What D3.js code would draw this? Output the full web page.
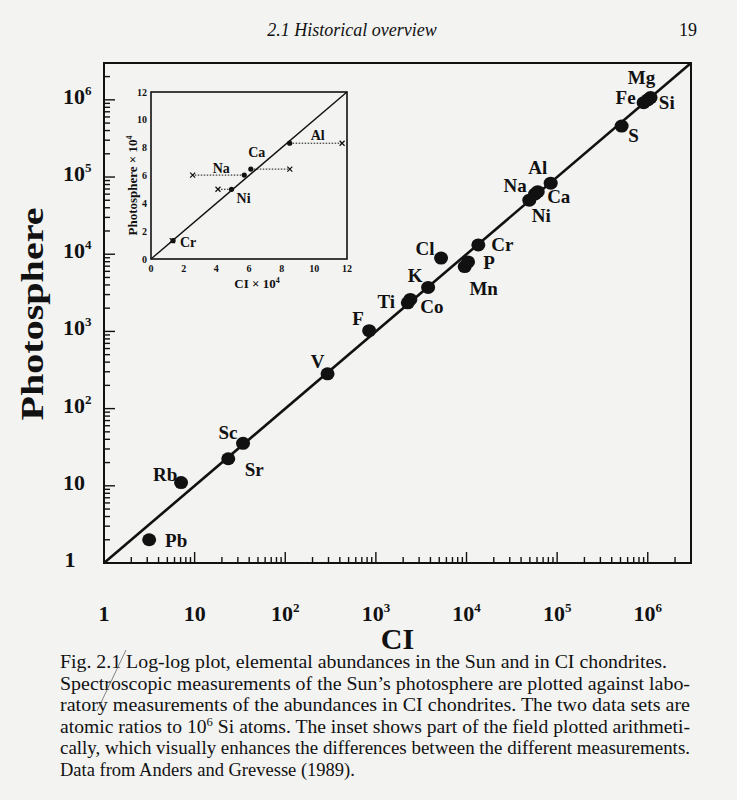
<!DOCTYPE html>
<html>
<head>
<meta charset="utf-8">
<script src="https://d3js.org/d3.v7.min.js"></script>
<style>
  body { margin: 0; background: #f3f3f2; }
  svg { display: block; }
  .serif { font-family: "Liberation Serif", "DejaVu Serif", serif; fill: #111; }
</style>
</head>
<body>
<svg id="canvas"></svg>
<script>
"use strict";

// Main plot data (atomic ratios to 10^6 Si atoms)
const elements = ["Pb", "Rb", "Sr", "Sc", "V", "F", "Ti", "Co", "K", "Cl", "Mn", "P", "Cr", "Ni", "Na", "Ca", "Al", "S", "Fe", "Mg", "Si"];
const ciValues = [3.15, 7.09, 23.5, 34.2, 293, 843, 2400, 2250, 3770, 5240, 9550, 10400, 13500, 49300, 57100, 61100, 84900, 515000, 900000, 1074000, 1000000];
const photoValues = [2.0, 11.0, 22.4, 35.5, 282, 1023, 2600, 2344, 3715, 8913, 6918, 7943, 13183, 50119, 60256, 64565, 83176, 457088, 920000, 1070000, 1000000];

// Inset data (units of 10^4)
const insetElements = ["Cr", "Ni", "Na", "Ca", "Al"];
const insetCI = [1.35, 4.93, 5.71, 6.11, 8.49];
const insetPhoto = [1.32, 5.01, 6.03, 6.46, 8.32];
const insetOtherCI = [1.30, 4.10, 2.55, 8.50, 11.70];
const insetTicks = [0, 2, 4, 6, 8, 10, 12];

const captionLines = [
    "Fig. 2.1  Log-log plot, elemental abundances in the Sun and in CI chondrites.",
    "Spectroscopic measurements of the Sun\u2019s photosphere are plotted against labo-",
    "ratory measurements of the abundances in CI chondrites. The two data sets are",
    "atomic ratios to 10|6| Si atoms. The inset shows part of the field plotted arithmeti-",
    "cally, which visually enhances the differences between the different measurements.",
    "Data from Anders and Grevesse (1989)."
];
// caption line widths as typeset (px); null = natural width
const captionWidths = [607, 630, 630, 630, 630, null];

// Label offsets (label centre relative to its dot, px)
const labelOffset = {
    Pb: [27, 1], Rb: [-16, -8], Sr: [26, 11], Sc: [-15, -11], V: [-10, -12], F: [-11, -12],
    Ti: [-24, 2], Co: [24, 4], K: [-13, -12], Cl: [-16, -10], Mn: [19, 22], P: [21, 1],
    Cr: [24, 0], Ni: [12, 15], Na: [-20, -9], Ca: [21, 5], Al: [-13, -16], S: [12, 9],
    Fe: [-18, -5], Mg: [-9, -20], Si: [19, 3]
};
const insetLabelOffset = { Al: [28, -8], Ca: [6, -17], Na: [-23, -7], Ni: [12, 9], Cr: [15, 2] };

const width = 737, height = 800;
const plot = { left: 104, right: 691, top: 63, bottom: 563 };
const inset = { left: 151, right: 347, top: 92, bottom: 259 };

const svg = d3.select("#canvas").attr("width", width).attr("height", height);

// Header
svg.append("text").attr("class", "serif")
    .attr("x", 352).attr("y", 36).attr("text-anchor", "middle")
    .attr("font-size", 18).attr("font-style", "italic")
    .text("2.1  Historical overview");
svg.append("text").attr("class", "serif")
    .attr("x", 697).attr("y", 36).attr("text-anchor", "end")
    .attr("font-size", 18)
    .text("19");

// Scales
const domain = [1, 3e6];
const x = d3.scaleLog().domain(domain).range([plot.left, plot.right]);
const y = d3.scaleLog().domain(domain).range([plot.bottom, plot.top]);

const ticks = x.ticks().filter(t => t < domain[1]);
const isMajor = t => Math.abs(Math.log10(t) - Math.round(Math.log10(t))) < 1e-9;

const g = svg.append("g");

// Ticks (inward)
g.selectAll(".xtick").data(ticks).enter().append("line")
    .attr("x1", d => x(d)).attr("x2", d => x(d))
    .attr("y1", plot.bottom).attr("y2", d => plot.bottom - (isMajor(d) ? 11 : 6))
    .attr("stroke", "#111").attr("stroke-width", 1.4);
g.selectAll(".ytick").data(ticks).enter().append("line")
    .attr("y1", d => y(d)).attr("y2", d => y(d))
    .attr("x1", plot.left).attr("x2", d => plot.left + (isMajor(d) ? 11 : 6))
    .attr("stroke", "#111").attr("stroke-width", 1.4);

// Tick labels
const majors = ticks.filter(isMajor);
function powerLabel(sel, d) {
    const p = Math.round(Math.log10(d));
    if (p === 0) { sel.text("1"); return; }
    if (p === 1) { sel.text("10"); return; }
    sel.append("tspan").text("10");
    sel.append("tspan").attr("font-size", 13).attr("dy", -9).text(p);
}
majors.forEach(d => {
    const t = g.append("text").attr("class", "serif")
        .attr("x", x(d)).attr("y", plot.bottom + 58)
        .attr("text-anchor", "middle").attr("font-size", 22).attr("font-weight", "bold");
    powerLabel(t, d);
    const p = Math.round(Math.log10(d));
    const ty = g.append("text").attr("class", "serif")
        .attr("x", p === 0 ? 70 : 63).attr("y", y(d) + 4)
        .attr("text-anchor", p === 0 ? "middle" : "start")
        .attr("font-size", 22).attr("font-weight", "bold");
    powerLabel(ty, d);
});

// Axis titles
g.append("text").attr("class", "serif")
    .attr("x", (plot.left + plot.right) / 2).attr("y", 649)
    .attr("text-anchor", "middle").attr("font-size", 30).attr("font-weight", "bold")
    .text("CI");
g.append("text").attr("class", "serif")
    .attr("transform", `translate(43,${(plot.top + plot.bottom) / 2 + 1}) rotate(-90)`)
    .attr("text-anchor", "middle").attr("font-size", 32).attr("font-weight", "bold")
    .attr("textLength", 213).attr("lengthAdjust", "spacingAndGlyphs")
    .text("Photosphere");

// Frame and 1:1 line
g.append("rect")
    .attr("x", plot.left).attr("y", plot.top)
    .attr("width", plot.right - plot.left).attr("height", plot.bottom - plot.top)
    .attr("fill", "none").attr("stroke", "#111").attr("stroke-width", 2);
g.append("line")
    .attr("x1", x(domain[0])).attr("y1", y(domain[0]))
    .attr("x2", x(domain[1])).attr("y2", y(domain[1]))
    .attr("stroke", "#111").attr("stroke-width", 2.6);

// Points
g.selectAll(".dot").data(elements).enter().append("ellipse")
    .attr("cx", (d, i) => x(ciValues[i])).attr("cy", (d, i) => y(photoValues[i]))
    .attr("rx", 7).attr("ry", 6.5).attr("fill", "#111");

g.selectAll(".lab").data(elements).enter().append("text")
    .attr("class", "serif")
    .attr("x", (d, i) => x(ciValues[i]) + labelOffset[d][0])
    .attr("y", (d, i) => y(photoValues[i]) + labelOffset[d][1])
    .attr("text-anchor", "middle").attr("dominant-baseline", "central")
    .attr("font-size", 19).attr("font-weight", "bold")
    .text(d => d);

// Inset
const ix = d3.scaleLinear().domain([0, 12]).range([inset.left, inset.right]);
const iy = d3.scaleLinear().domain([0, 12]).range([inset.bottom, inset.top]);
const ig = svg.append("g");

ig.append("rect")
    .attr("x", inset.left).attr("y", inset.top)
    .attr("width", inset.right - inset.left).attr("height", inset.bottom - inset.top)
    .attr("fill", "none").attr("stroke", "#111").attr("stroke-width", 1.6);
ig.append("line")
    .attr("x1", ix(0)).attr("y1", iy(0)).attr("x2", ix(12)).attr("y2", iy(12))
    .attr("stroke", "#111").attr("stroke-width", 1.4);

ig.selectAll(".ixl").data(insetTicks).enter().append("text")
    .attr("class", "serif")
    .attr("x", d => ix(d)).attr("y", inset.bottom + 13)
    .attr("text-anchor", "middle").attr("font-size", 10).attr("font-weight", "bold")
    .text(d => d);
ig.selectAll(".iyl").data(insetTicks).enter().append("text")
    .attr("class", "serif")
    .attr("x", inset.left - 4).attr("y", d => iy(d) + 3.5)
    .attr("text-anchor", "end").attr("font-size", 10).attr("font-weight", "bold")
    .text(d => d);

const ciTitle = ig.append("text").attr("class", "serif")
    .attr("x", (inset.left + inset.right) / 2 + 8).attr("y", inset.bottom + 29)
    .attr("text-anchor", "middle").attr("font-size", 13).attr("font-weight", "bold");
ciTitle.append("tspan").text("CI \u00d7 10");
ciTitle.append("tspan").attr("font-size", 8).attr("dy", -5).text("4");
const phTitle = ig.append("text").attr("class", "serif")
    .attr("transform", `translate(137,${(inset.top + inset.bottom) / 2 + 10}) rotate(-90)`)
    .attr("text-anchor", "middle").attr("font-size", 13).attr("font-weight", "bold");
phTitle.append("tspan").text("Photosphere \u00d7 10");
phTitle.append("tspan").attr("font-size", 8).attr("dy", -5).text("4");

// Dotted links between the two CI measurements
ig.selectAll(".link").data(insetElements).enter().append("line")
    .attr("x1", (d, i) => ix(insetCI[i])).attr("x2", (d, i) => ix(insetOtherCI[i]))
    .attr("y1", (d, i) => iy(insetPhoto[i])).attr("y2", (d, i) => iy(insetPhoto[i]))
    .attr("stroke", "#111").attr("stroke-width", 1).attr("stroke-dasharray", "1.5,1.5");

ig.selectAll(".cross").data(insetElements).enter().append("path")
    .attr("transform", (d, i) => `translate(${ix(insetOtherCI[i])},${iy(insetPhoto[i])})`)
    .attr("d", "M-2.5,-2.5L2.5,2.5M-2.5,2.5L2.5,-2.5")
    .attr("stroke", "#111").attr("stroke-width", 1.2);

ig.selectAll(".idot").data(insetElements).enter().append("circle")
    .attr("cx", (d, i) => ix(insetCI[i])).attr("cy", (d, i) => iy(insetPhoto[i]))
    .attr("r", 2.6).attr("fill", "#111");

ig.selectAll(".ilab").data(insetElements).enter().append("text")
    .attr("class", "serif")
    .attr("x", (d, i) => ix(insetCI[i]) + insetLabelOffset[d][0])
    .attr("y", (d, i) => iy(insetPhoto[i]) + insetLabelOffset[d][1])
    .attr("text-anchor", "middle").attr("dominant-baseline", "central")
    .attr("font-size", 14).attr("font-weight", "bold")
    .text(d => d);

// Caption
const cap = svg.append("g");
captionLines.forEach((line, i) => {
    const t = cap.append("text").attr("class", "serif")
        .attr("x", 60).attr("y", 668 + i * 21.5)
        .attr("font-size", 18.5);
    if (captionWidths[i]) {
        t.attr("textLength", captionWidths[i]).attr("lengthAdjust", "spacingAndGlyphs");
    }
    const parts = line.split("|");
    parts.forEach((p, j) => {
        const sp = t.append("tspan").text(p);
        if (j === 1) sp.attr("font-size", 12).attr("dy", -7);
        if (j === 2) sp.attr("dy", 7);
    });
});

// Pencil mark across the caption
svg.append("line")
    .attr("x1", 126).attr("y1", 650).attr("x2", 97).attr("y2", 711)
    .attr("stroke", "#666").attr("stroke-width", 0.8);
</script>
</body>
</html>
